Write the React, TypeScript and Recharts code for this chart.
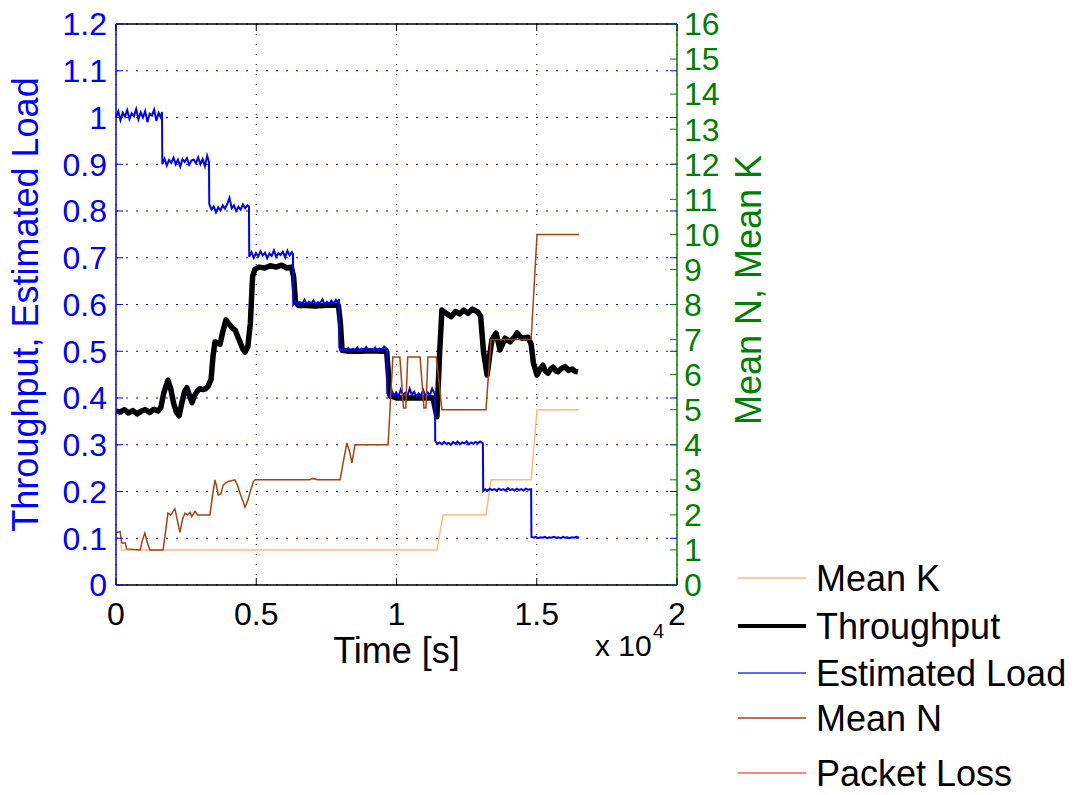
import React from "react";
import { LineChart, Line, XAxis, YAxis, CartesianGrid, ReferenceLine } from "recharts";

// time axis in seconds, shown as x 10^4
const xTicks = [0, 5000, 10000, 15000, 20000];
const loadTicks = [0, 0.1, 0.2, 0.3, 0.4, 0.5, 0.6, 0.7, 0.8, 0.9, 1, 1.1, 1.2];
const countTicks = [0, 1, 2, 3, 4, 5, 6, 7, 8, 9, 10, 11, 12, 13, 14, 15, 16];

// [time, value]
const meanK: [number, number][] = [
  [170, 1.15], [200, 1.0], [11440, 1.0], [11660, 2.0], [13190, 2.0], [13370, 3.0],
  [14800, 3.0], [15010, 5.0], [16510, 5.0],
];

const throughput: [number, number][] = [
  [0, 0.372], [150, 0.37], [300, 0.375], [450, 0.368], [600, 0.373], [750, 0.366],
  [900, 0.372], [1050, 0.375], [1200, 0.369], [1350, 0.376], [1500, 0.372], [1600, 0.38],
  [1700, 0.41], [1850, 0.438], [1950, 0.42], [2050, 0.39], [2150, 0.37], [2250, 0.362],
  [2350, 0.39], [2450, 0.415], [2530, 0.422], [2620, 0.405], [2710, 0.39], [2800, 0.405],
  [2900, 0.415], [2990, 0.42], [3100, 0.418], [3200, 0.42], [3280, 0.425], [3390, 0.44],
  [3460, 0.49], [3530, 0.52], [3620, 0.518], [3710, 0.515], [3800, 0.54], [3920, 0.567],
  [4000, 0.56], [4080, 0.555], [4140, 0.55], [4250, 0.545], [4350, 0.53], [4420, 0.52],
  [4520, 0.505], [4600, 0.498], [4700, 0.51], [4790, 0.56], [4870, 0.66], [4950, 0.675],
  [5100, 0.68], [5300, 0.678], [5500, 0.683], [5700, 0.68], [5900, 0.684], [6100, 0.678],
  [6250, 0.68], [6330, 0.66], [6400, 0.605], [6500, 0.598], [6800, 0.598], [7100, 0.597],
  [7400, 0.598], [7700, 0.599], [7930, 0.598], [8000, 0.56], [8060, 0.502], [8300, 0.5],
  [8700, 0.5], [9100, 0.501], [9500, 0.5], [9650, 0.5], [9700, 0.46], [9770, 0.405],
  [10000, 0.4], [10500, 0.4], [11000, 0.4], [11300, 0.4], [11440, 0.36], [11540, 0.5],
  [11620, 0.588], [11800, 0.58], [11950, 0.574], [12100, 0.585], [12250, 0.58], [12400, 0.588],
  [12550, 0.581], [12700, 0.59], [12900, 0.584], [13000, 0.575], [13100, 0.5], [13230, 0.449],
  [13320, 0.49], [13400, 0.524], [13550, 0.539], [13690, 0.503], [13870, 0.528], [14050, 0.52],
  [14200, 0.53], [14300, 0.539], [14470, 0.528], [14690, 0.53], [14800, 0.515], [14880, 0.475],
  [15010, 0.449], [15120, 0.462], [15220, 0.47], [15300, 0.458], [15400, 0.453], [15500, 0.462],
  [15580, 0.466], [15680, 0.458], [15760, 0.456], [15880, 0.463], [16010, 0.467], [16130, 0.459],
  [16260, 0.462], [16370, 0.457], [16470, 0.456],
];

const estimatedLoad: [number, number][] = [
  // ~1.0
  [0, 1.0], [80, 1.013], [160, 0.994], [240, 1.01], [320, 1.002], [400, 1.016], [480, 0.997],
  [560, 1.009], [640, 1.003], [720, 1.018], [800, 0.996], [880, 1.011], [960, 1.0], [1040, 1.014],
  [1120, 0.99], [1200, 1.008], [1280, 1.004], [1360, 1.017], [1440, 0.993], [1520, 1.01],
  [1600, 1.0], [1640, 1.012],
  // ~0.9
  [1650, 0.9], [1730, 0.912], [1810, 0.897], [1890, 0.909], [1970, 0.903], [2050, 0.914],
  [2130, 0.9], [2210, 0.91], [2290, 0.895], [2370, 0.911], [2450, 0.905], [2530, 0.913],
  [2610, 0.899], [2690, 0.908], [2770, 0.91], [2850, 0.902], [2930, 0.915], [3010, 0.9],
  [3090, 0.911], [3170, 0.896], [3250, 0.918], [3315, 0.905],
  // ~0.8
  [3325, 0.815], [3405, 0.803], [3485, 0.81], [3565, 0.797], [3645, 0.808], [3725, 0.801],
  [3805, 0.812], [3885, 0.805], [3965, 0.815], [4045, 0.828], [4125, 0.806], [4205, 0.812],
  [4285, 0.8], [4365, 0.809], [4445, 0.803], [4525, 0.814], [4605, 0.806], [4685, 0.812],
  [4740, 0.81],
  // ~0.7
  [4750, 0.702], [4830, 0.712], [4910, 0.7], [4990, 0.71], [5070, 0.703], [5150, 0.714],
  [5230, 0.705], [5310, 0.711], [5390, 0.699], [5470, 0.709], [5550, 0.704], [5630, 0.716],
  [5710, 0.702], [5790, 0.71], [5870, 0.706], [5950, 0.713], [6030, 0.701], [6110, 0.715],
  [6190, 0.705], [6270, 0.712], [6310, 0.708],
  // ~0.6
  [6320, 0.6], [6400, 0.607], [6480, 0.599], [6560, 0.605], [6640, 0.601], [6720, 0.61],
  [6800, 0.6], [6880, 0.606], [6960, 0.602], [7040, 0.609], [7120, 0.6], [7200, 0.605],
  [7280, 0.603], [7360, 0.611], [7440, 0.6], [7520, 0.606], [7600, 0.601], [7680, 0.608],
  [7760, 0.602], [7840, 0.61], [7920, 0.603], [7950, 0.612],
  // ~0.5
  [7960, 0.508], [8040, 0.5], [8120, 0.506], [8200, 0.501], [8280, 0.507], [8360, 0.499],
  [8440, 0.505], [8520, 0.502], [8600, 0.508], [8680, 0.5], [8760, 0.506], [8840, 0.503],
  [8920, 0.509], [9000, 0.501], [9080, 0.505], [9160, 0.502], [9240, 0.508], [9320, 0.5],
  [9400, 0.506], [9480, 0.503], [9560, 0.51], [9660, 0.505],
  // ~0.4
  [9670, 0.41], [9750, 0.402], [9830, 0.415], [9910, 0.405], [9990, 0.412], [10070, 0.403],
  [10150, 0.418], [10230, 0.406], [10310, 0.411], [10390, 0.404], [10470, 0.42], [10550, 0.407],
  [10630, 0.413], [10710, 0.403], [10790, 0.41], [10870, 0.405], [10950, 0.417], [11030, 0.404],
  [11110, 0.412], [11190, 0.406], [11270, 0.42], [11370, 0.408],
  // ~0.3
  [11380, 0.308], [11460, 0.302], [11540, 0.305], [11620, 0.301], [11700, 0.306], [11780, 0.302],
  [11860, 0.304], [11940, 0.3], [12020, 0.306], [12100, 0.302], [12180, 0.307], [12260, 0.301],
  [12340, 0.305], [12420, 0.303], [12500, 0.307], [12580, 0.301], [12660, 0.305], [12740, 0.302],
  [12820, 0.306], [12900, 0.303], [12980, 0.307], [13080, 0.303],
  // ~0.2
  [13090, 0.201], [13170, 0.205], [13250, 0.202], [13330, 0.206], [13410, 0.203], [13490, 0.205],
  [13570, 0.202], [13650, 0.206], [13730, 0.203], [13810, 0.205], [13890, 0.202], [13970, 0.207],
  [14050, 0.203], [14130, 0.205], [14210, 0.202], [14290, 0.206], [14370, 0.203], [14450, 0.205],
  [14530, 0.202], [14610, 0.206], [14690, 0.204], [14800, 0.205],
  // ~0.1
  [14810, 0.103], [14890, 0.101], [14970, 0.103], [15050, 0.1], [15130, 0.102], [15210, 0.101],
  [15290, 0.103], [15370, 0.1], [15450, 0.102], [15530, 0.101], [15610, 0.103], [15690, 0.101],
  [15770, 0.102], [15850, 0.1], [15930, 0.103], [16010, 0.101], [16090, 0.102], [16170, 0.1],
  [16250, 0.102], [16330, 0.101], [16410, 0.103], [16510, 0.101],
];

const meanN: [number, number][] = [
  [0, 1.5], [150, 1.52], [200, 1.2], [330, 1.2], [380, 1.03], [860, 1.0], [950, 1.3],
  [1030, 1.48], [1120, 1.2], [1210, 1.0], [1680, 1.0], [1780, 1.6], [1850, 2.05], [1950, 2.0],
  [2100, 2.17], [2200, 1.8], [2280, 1.5], [2380, 1.9], [2460, 2.05], [2550, 2.0], [2640, 2.07],
  [2700, 1.95], [2820, 2.1], [2900, 2.0], [3100, 2.0], [3350, 2.0], [3450, 2.6], [3530, 3.0],
  [3590, 2.8], [3640, 2.57], [3740, 2.6], [3820, 2.85], [3890, 2.9], [4000, 2.95], [4240, 3.0],
  [4330, 2.85], [4420, 2.62], [4520, 2.4], [4600, 2.22], [4700, 2.42], [4800, 2.7], [4900, 2.95],
  [4960, 3.0], [6900, 3.0], [7000, 3.04], [7200, 3.0], [7990, 3.0], [8100, 3.5], [8230, 4.05],
  [8330, 3.8], [8410, 3.48], [8480, 3.8], [8520, 4.0], [9700, 4.0], [9870, 6.5], [10120, 6.5],
  [10250, 5.05], [10330, 5.05], [10400, 6.5], [10840, 6.5], [10980, 5.05], [11050, 5.05],
  [11120, 6.5], [11420, 6.5], [11620, 5.0], [13190, 5.0], [13370, 7.0], [14800, 7.0],
  [15010, 10.0], [16510, 10.0],
];

const rows = (pts: [number, number][]) => pts.map(([t, v]) => ({ t, v }));

const BLUE = "#0000FF";
const GREEN = "#008000";
const FONT = "'Liberation Sans', Arial, Helvetica, sans-serif";

const PLOT_LEFT = 116;
const PLOT_RIGHT = 677;
const PLOT_TOP = 24;
const PLOT_BOTTOM = 585;

const legend = [
  { name: "Mean K", color: "#FFBB77", width: 1.5, y: 578 },
  { name: "Throughput", color: "#000000", width: 4, y: 626 },
  { name: "Estimated Load", color: "#3333FF", width: 1.5, y: 673 },
  { name: "Mean N", color: "#A8420F", width: 1.5, y: 718 },
  { name: "Packet Loss", color: "#FF5A5A", width: 1.5, y: 773 },
];

const XTick = (props: any) => {
  const { x, payload } = props;
  return (
    <g>
      <line x1={x} x2={x} y1={PLOT_BOTTOM} y2={PLOT_BOTTOM - 7} stroke="#000" />
      <line x1={x} x2={x} y1={PLOT_TOP} y2={PLOT_TOP + 7} stroke="#000" />
      <text x={x} y={PLOT_BOTTOM + 40} textAnchor="middle" fill="#000" fontSize={32} fontFamily={FONT}>
        {String(payload.value / 10000)}
      </text>
    </g>
  );
};

const LeftTick = (props: any) => {
  const { y, payload } = props;
  return (
    <g>
      <line x1={PLOT_LEFT} x2={PLOT_LEFT + 7} y1={y} y2={y} stroke={BLUE} />
      <line x1={PLOT_RIGHT - 7} x2={PLOT_RIGHT} y1={y} y2={y} stroke={BLUE} />
      <text x={PLOT_LEFT - 9} y={y} dy="0.355em" textAnchor="end" fill={BLUE} fontSize={32} fontFamily={FONT}>
        {String(payload.value)}
      </text>
    </g>
  );
};

const RightTick = (props: any) => {
  const { y, payload } = props;
  return (
    <g>
      <line x1={PLOT_RIGHT - 7} x2={PLOT_RIGHT} y1={y} y2={y} stroke={GREEN} />
      <text x={PLOT_RIGHT + 7} y={y} dy="0.355em" textAnchor="start" fill={GREEN} fontSize={32} fontFamily={FONT}>
        {String(payload.value)}
      </text>
    </g>
  );
};

export default function App() {
  return (
    <div style={{ position: "absolute", left: 0, top: 0, width: 1078, height: 795, background: "#fff" }}>
      <LineChart
        width={1078}
        height={795}
        margin={{ top: PLOT_TOP, right: 1078 - PLOT_RIGHT - 80, bottom: 795 - PLOT_BOTTOM - 60, left: PLOT_LEFT - 80 }}
      >
        <CartesianGrid horizontal vertical={false} stroke={BLUE} strokeDasharray="2 8" />
        <CartesianGrid horizontal={false} vertical stroke="#000" strokeDasharray="1 9" />
        <XAxis
          dataKey="t"
          type="number"
          domain={[0, 20000]}
          ticks={xTicks}
          interval={0}
          height={60}
          axisLine={{ stroke: "#000", strokeWidth: 1.5 }}
          tickLine={false}
          tick={<XTick />}
        />
        <YAxis
          type="number"
          domain={[0, 1.2]}
          ticks={loadTicks}
          interval={0}
          width={80}
          axisLine={{ stroke: BLUE, strokeWidth: 1.5 }}
          tickLine={false}
          tick={<LeftTick />}
        />
        <YAxis
          yAxisId="right"
          orientation="right"
          type="number"
          domain={[0, 16]}
          ticks={countTicks}
          interval={0}
          width={80}
          axisLine={{ stroke: GREEN, strokeWidth: 1.5 }}
          tickLine={false}
          tick={<RightTick />}
        />
        <ReferenceLine y={1.2} stroke="#000" strokeWidth={1.5} />
        <Line
          yAxisId="right"
          data={rows(meanK)}
          dataKey="v"
          stroke="#FFBB77"
          strokeWidth={1.5}
          dot={false}
          isAnimationActive={false}
        />
        <Line
          data={rows(throughput)}
          dataKey="v"
          stroke="#000"
          strokeWidth={5.5}
          strokeLinejoin="round"
          dot={false}
          isAnimationActive={false}
        />
        <Line
          data={rows(estimatedLoad)}
          dataKey="v"
          stroke={BLUE}
          strokeWidth={2}
          dot={false}
          isAnimationActive={false}
        />
        <Line
          yAxisId="right"
          data={rows(meanN)}
          dataKey="v"
          stroke="#A8420F"
          strokeWidth={1.5}
          dot={false}
          isAnimationActive={false}
        />
      </LineChart>
      <svg
        width={1078}
        height={795}
        style={{ position: "absolute", left: 0, top: 0, pointerEvents: "none" }}
        fontFamily={FONT}
      >
        <text
          x={38}
          y={(PLOT_TOP + PLOT_BOTTOM) / 2}
          transform={`rotate(-90, 38, ${(PLOT_TOP + PLOT_BOTTOM) / 2})`}
          textAnchor="middle"
          fill={BLUE}
          fontSize={36}
        >
          Throughput, Estimated Load
        </text>
        <text x={761} y={290} transform="rotate(-90, 761, 290)" textAnchor="middle" fill={GREEN} fontSize={36}>
          Mean N, Mean K
        </text>
        <text x={(PLOT_LEFT + PLOT_RIGHT) / 2} y={663} textAnchor="middle" fill="#000" fontSize={36}>
          Time [s]
        </text>
        <text x={595} y={656} fill="#000" fontSize={30}>
          x 10
        </text>
        <text x={653} y={638} fill="#000" fontSize={20}>
          4
        </text>
        {legend.map((item) => (
          <g key={item.name}>
            <line x1={738} x2={806} y1={item.y} y2={item.y} stroke={item.color} strokeWidth={item.width} />
            <text x={816} y={item.y + 13} fill="#000" fontSize={36}>
              {item.name}
            </text>
          </g>
        ))}
      </svg>
    </div>
  );
}
